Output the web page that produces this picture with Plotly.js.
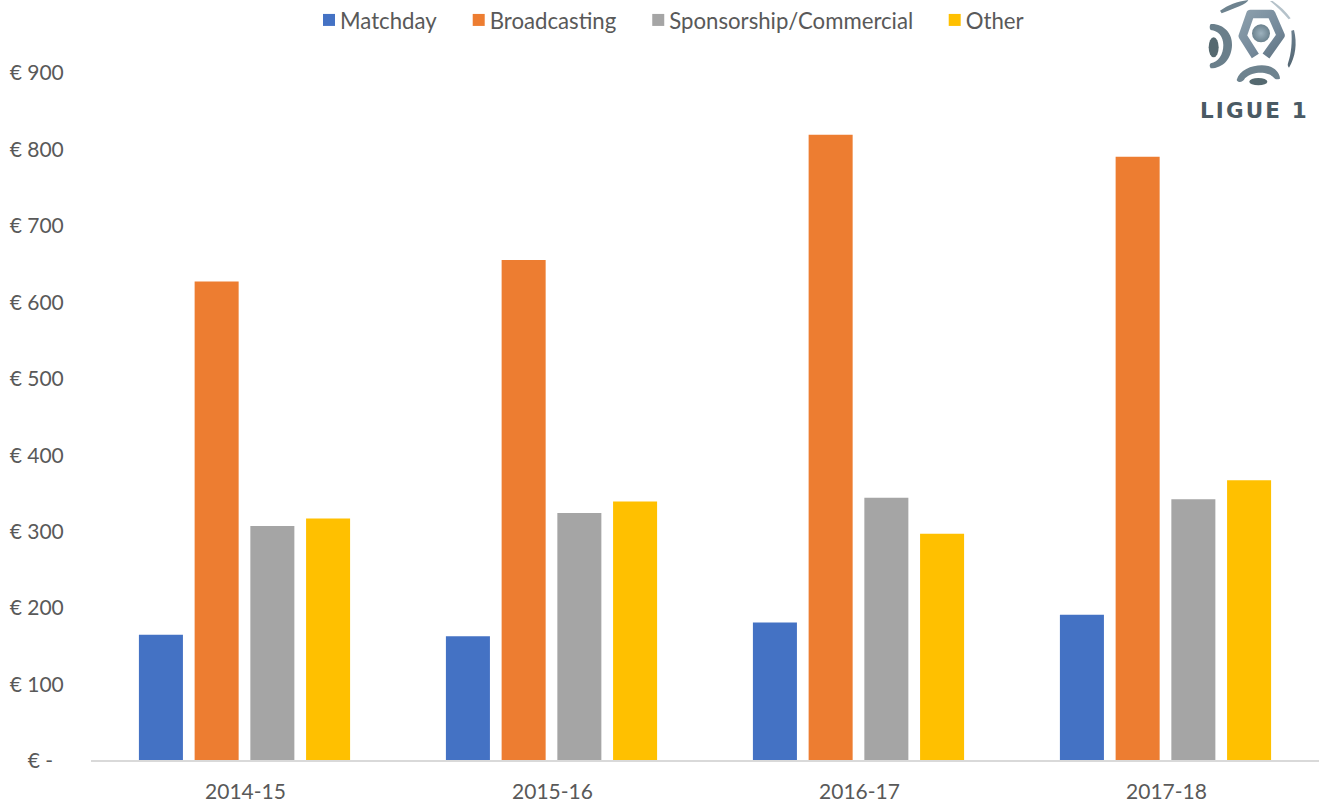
<!DOCTYPE html>
<html>
<head>
<meta charset="utf-8">
<script src="https://cdn.plot.ly/plotly-3.0.1.min.js"></script>
<style>html,body{margin:0;padding:0;background:#fff;overflow:hidden}</style>
</head>
<body>
<div id="chart" style="width:1319px;height:802px"></div>
<script>
// Ligue 1 club revenue by source, in € millions
const seasons = ['2014-15', '2015-16', '2016-17', '2017-18'];
const matchday = [164, 162, 180, 190];
const broadcasting = [626, 654, 818, 789];
const sponsorship = [306, 323, 343, 341];
const other = [316, 338, 296, 366];

const tickValues = [0, 100, 200, 300, 400, 500, 600, 700, 800, 900];
const tickLabels = ['€ -\u00a0\u00a0', '€ 100', '€ 200', '€ 300', '€ 400', '€ 500', '€ 600', '€ 700', '€ 800', '€ 900'];

const seriesNames = ['Matchday', 'Broadcasting', 'Sponsorship/Commercial', 'Other'];
const seriesColors = ['#4472c4', '#ed7d31', '#a5a5a5', '#ffc000'];
const seriesValues = [matchday, broadcasting, sponsorship, other];

const W = 1319, H = 802;
const margin = {l: 91, r: 0, t: 72, b: 42, pad: 0};
const plotW = W - margin.l - margin.r, plotH = H - margin.t - margin.b;
const textColor = '#595959';
const font = {family: 'Lato, "Open Sans", sans-serif', size: 21, color: textColor};
const legendFont = {family: font.family, size: 22.2, color: textColor};

// League crest, a small vector emblem with a brushed-metal gradient
const crest = `<svg xmlns="http://www.w3.org/2000/svg" width="417" height="300" viewBox="0 0 417 300">
<defs><linearGradient id="m" gradientUnits="userSpaceOnUse" x1="100" y1="0" x2="340" y2="260"><stop offset="0" stop-color="#9fb1bb"/><stop offset="0.55" stop-color="#74899a"/><stop offset="1" stop-color="#465761"/></linearGradient>
<radialGradient id="c"><stop offset="0" stop-color="#9db2be"/><stop offset="1" stop-color="#6b828e"/></radialGradient>
<filter id="b"><feGaussianBlur stdDeviation="1.8"/></filter></defs>
<g filter="url(#b)">
<path d="M226 168 L188 108 L211 42 L274 42 L302 106 L258 168" fill="none" stroke="url(#m)" stroke-width="25" stroke-linejoin="round"/>
<circle cx="243" cy="100" r="27" fill="url(#c)"/>
<path fill="#6a7f8b" d="M92 72 C130 70 158 100 156 135 C155 175 130 205 92 205 C88 198 88 195 92 190 C115 185 130 165 130 135 C130 110 115 92 92 90 C88 85 88 78 92 72 Z"/>
<ellipse cx="101" cy="142" rx="15" ry="30" fill="#55696f"/>
<path d="M170 240 C180 205 230 190 265 198 C285 203 300 220 300 236 C290 240 285 238 280 232 C265 215 220 212 195 235 C188 248 175 250 170 240 Z" fill="#6e838f"/>
<ellipse cx="235" cy="245" rx="27" ry="11" fill="#55696f"/>
<path fill="url(#m)" d="M342 90 C352 130 347 170 327 203 C324 200 322 195 324 190 C334 160 337 125 334 92 Z"/>
<path d="M120 32 C145 15 170 5 205 0 C200 12 170 22 125 40 Z" fill="#6e838f"/>
<path d="M270 3 L278 3 C300 18 318 35 332 55 L326 58 C310 38 290 20 270 3 Z" fill="#b5c2ca"/>
</g></svg>`;

const traces = seriesNames.map((name, i) => ({
  type: 'bar',
  name: name,
  x: seasons,
  y: seriesValues[i],
  marker: {color: seriesColors[i], line: {width: 0}},
  hoverinfo: 'x+y+name'
}));

const layout = {
  width: W,
  height: H,
  margin: margin,
  paper_bgcolor: '#ffffff',
  plot_bgcolor: '#ffffff',
  font: font,
  barmode: 'group',
  bargap: 0.274,
  bargroupgap: 0.21,
  xaxis: {
    type: 'category',
    showgrid: false,
    zeroline: false,
    showline: true,
    linecolor: '#d9d9d9',
    linewidth: 2,
    ticks: 'outside',
    ticklen: 12,
    ticklabelshift: 1,
    tickcolor: 'rgba(0,0,0,0)',
    tickfont: font,
    automargin: false
  },
  yaxis: {
    range: [0, 900],
    tickvals: tickValues,
    ticktext: tickLabels,
    showgrid: false,
    zeroline: false,
    showline: false,
    ticks: 'outside',
    ticklen: 22,
    ticklabelshift: 1,
    tickcolor: 'rgba(0,0,0,0)',
    tickfont: font,
    automargin: false
  },
  showlegend: true,
  legend: {
    orientation: 'h',
    x: (300 - margin.l) / plotW,
    xanchor: 'left',
    y: 1 + (margin.t - 1) / plotH,
    yanchor: 'top',
    font: legendFont,
    itemwidth: 30,
    itemclick: false,
    itemdoubleclick: false,
    bgcolor: 'rgba(0,0,0,0)'
  },
  images: [{
    source: 'data:image/svg+xml;charset=utf-8,' + encodeURIComponent(crest),
    xref: 'paper', yref: 'paper',
    x: (1180 - margin.l) / plotW,
    y: 1 + margin.t / plotH,
    sizex: 139 / plotW,
    sizey: 100 / plotH,
    xanchor: 'left', yanchor: 'top',
    sizing: 'stretch',
    layer: 'above'
  }],
  annotations: [{
    text: '<b>L\u200aI\u200aG\u200aU\u200aE\u2009 1</b>',
    xref: 'paper', yref: 'paper',
    x: (1253 - margin.l) / plotW,
    y: 1 - (110 - margin.t) / plotH,
    xanchor: 'center', yanchor: 'middle',
    showarrow: false,
    font: {family: '"DejaVu Sans", sans-serif', size: 21.5, color: '#4a5a64'}
  }]
};

// Tighten each legend swatch against its label and open the gaps between entries
const swatchShift = 9, entryGap = 7.5, legendLift = 2;

Plotly.newPlot('chart', traces, layout, {displayModeBar: false, responsive: false}).then(() => {
  const box = document.querySelector('#chart .legend .scrollbox');
  if (box) box.removeAttribute('clip-path');
  document.querySelectorAll('#chart .legend .traces').forEach((entry, i) => {
    const m = /translate\(([-\d.]+)[, ]+([-\d.]+)\)/.exec(entry.getAttribute('transform') || '');
    if (m) entry.setAttribute('transform', `translate(${+m[1] + i * entryGap},${+m[2] - legendLift})`);
    const swatch = entry.querySelector('.legendpoints');
    if (swatch) swatch.setAttribute('transform', `translate(${swatchShift},0)`);
  });
});
</script>
</body>
</html>
